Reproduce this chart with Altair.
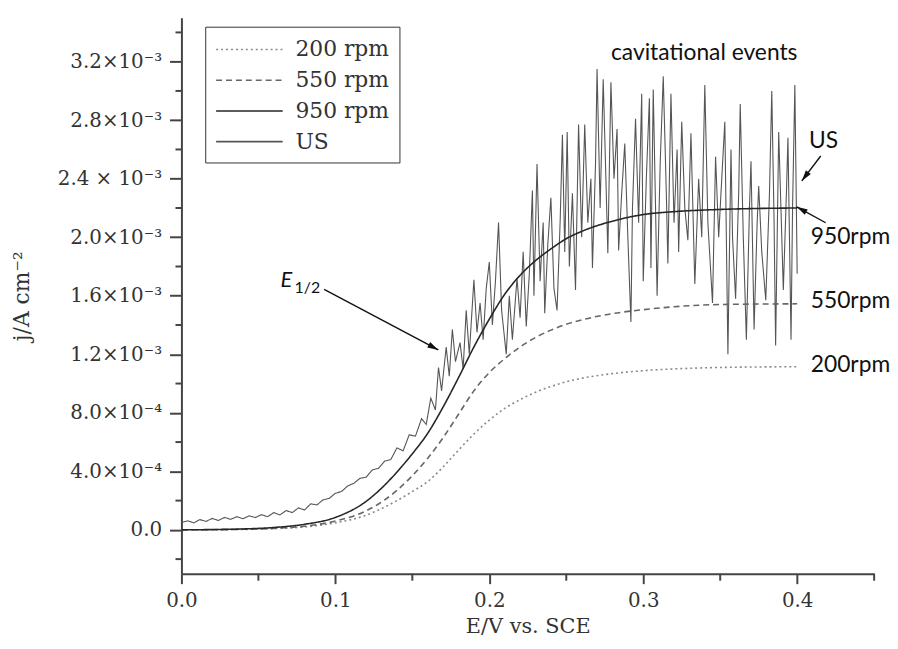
import altair as alt
import pandas as pd

# ---------------- data (j in units of 1e-3 A cm^-2, E in V vs. SCE) ----------------
E_CURVE = [0.00, 0.02, 0.04, 0.06, 0.08, 0.10, 0.12, 0.13, 0.14, 0.15, 0.16, 0.17, 0.18,
           0.19, 0.20, 0.21, 0.22, 0.23, 0.24, 0.25, 0.26, 0.28, 0.30, 0.32, 0.35, 0.40]
J_200 = [0.000, 0.001, 0.003, 0.008, 0.020, 0.048, 0.100, 0.145, 0.200, 0.262, 0.330, 0.430,
         0.545, 0.655, 0.750, 0.830, 0.890, 0.940, 0.980, 1.012, 1.036, 1.068, 1.088, 1.100,
         1.110, 1.115]
J_550 = [0.000, 0.001, 0.004, 0.010, 0.025, 0.060, 0.130, 0.190, 0.270, 0.370, 0.490, 0.630,
         0.790, 0.950, 1.075, 1.170, 1.250, 1.315, 1.365, 1.405, 1.435, 1.478, 1.505, 1.525,
         1.540, 1.545]
J_950 = [0.000, 0.002, 0.006, 0.016, 0.038, 0.085, 0.195, 0.285, 0.395, 0.520, 0.660, 0.840,
         1.040, 1.250, 1.440, 1.610, 1.740, 1.840, 1.920, 1.990, 2.040, 2.110, 2.155, 2.175,
         2.190, 2.200]

E_US = [0.000, 0.004, 0.008, 0.012, 0.016, 0.020, 0.024, 0.028, 0.032, 0.036, 0.040, 0.044,
        0.048, 0.052, 0.056, 0.060, 0.064, 0.068, 0.072, 0.076, 0.080, 0.084, 0.088, 0.092,
        0.096, 0.100, 0.104, 0.108, 0.112, 0.116, 0.120, 0.124, 0.128, 0.132, 0.136, 0.140,
        0.144, 0.148, 0.152, 0.156, 0.159, 0.162, 0.165, 0.167, 0.169, 0.172, 0.174, 0.176,
        0.178, 0.181, 0.183, 0.185, 0.187, 0.190, 0.192, 0.194, 0.196, 0.198, 0.200, 0.202,
        0.204, 0.206, 0.208, 0.211, 0.213, 0.215, 0.218, 0.220, 0.222, 0.224, 0.226, 0.228,
        0.229, 0.231, 0.233, 0.235, 0.236, 0.238, 0.240, 0.242, 0.244, 0.246, 0.2475, 0.249,
        0.2506, 0.252, 0.254, 0.256, 0.258, 0.260, 0.262, 0.264, 0.266, 0.267, 0.269, 0.270,
        0.272, 0.274, 0.276, 0.277, 0.279, 0.281, 0.283, 0.284, 0.286, 0.288, 0.290, 0.292,
        0.293, 0.295, 0.297, 0.299, 0.300, 0.302, 0.304, 0.305, 0.3065, 0.308, 0.309, 0.311,
        0.313, 0.315, 0.316, 0.318, 0.320, 0.322, 0.323, 0.325, 0.327, 0.329, 0.331, 0.3335,
        0.336, 0.338, 0.340, 0.342, 0.345, 0.347, 0.349, 0.351, 0.353, 0.355, 0.357, 0.358,
        0.360, 0.362, 0.363, 0.365, 0.367, 0.369, 0.370, 0.372, 0.374, 0.375, 0.377, 0.3796,
        0.382, 0.3835, 0.385, 0.386, 0.388, 0.390, 0.391, 0.393, 0.394, 0.396, 0.397, 0.3985,
        0.400]
J_US = [0.050, 0.062, 0.048, 0.070, 0.058, 0.078, 0.064, 0.085, 0.072, 0.090, 0.076, 0.096,
        0.084, 0.104, 0.090, 0.118, 0.102, 0.132, 0.118, 0.150, 0.136, 0.178, 0.170, 0.205,
        0.215, 0.250, 0.262, 0.300, 0.318, 0.352, 0.360, 0.410, 0.420, 0.470, 0.480, 0.560,
        0.540, 0.650, 0.640, 0.760, 0.720, 0.900, 0.820, 1.110, 0.950, 1.250, 1.050, 1.370,
        1.150, 1.280, 1.100, 1.500, 1.200, 1.710, 1.350, 1.550, 1.300, 1.650, 1.830, 1.400,
        1.700, 2.100, 1.500, 1.200, 1.600, 1.300, 1.720, 1.450, 1.900, 1.390, 1.750, 2.320,
        1.600, 2.500, 1.700, 2.100, 1.480, 1.950, 2.270, 1.650, 1.500, 2.100, 2.700, 1.900,
        2.720, 1.800, 2.300, 1.640, 2.770, 2.000, 2.770, 2.100, 2.400, 1.790, 2.500, 3.150,
        2.200, 3.080, 2.300, 1.890, 3.060, 2.400, 2.740, 1.910, 2.300, 2.640, 2.000, 1.420,
        2.200, 2.810, 2.100, 2.980, 1.700, 2.400, 2.950, 1.790, 3.010, 2.200, 1.600, 2.500,
        3.100, 2.300, 1.820, 2.980, 2.100, 2.600, 1.900, 2.790, 2.200, 1.980, 2.710, 1.680,
        2.400, 2.000, 3.040, 2.100, 1.550, 2.550, 2.000, 2.400, 2.790, 1.200, 2.600, 2.000,
        1.580, 2.300, 2.910, 2.000, 1.300, 2.200, 2.520, 1.370, 2.100, 2.350, 1.900, 1.570,
        2.300, 3.000, 2.100, 1.260, 2.720, 2.000, 1.640, 2.300, 2.680, 1.300, 2.200, 3.040,
        1.750]

SERIES = ["200 rpm", "550 rpm", "950 rpm", "US"]

X_MAJOR = [0.0, 0.1, 0.2, 0.3, 0.4]
X_LABELS = ["0.0", "0.1", "0.2", "0.3", "0.4"]
X_MINOR = [0.05, 0.15, 0.25, 0.35, 0.45]
Y_MAJOR = [0.0, 0.4, 0.8, 1.2, 1.6, 2.0, 2.4, 2.8, 3.2]
Y_LABELS = ["0.0", "4.0×10⁻⁴", "8.0×10⁻⁴", "1.2×10⁻³", "1.6×10⁻³", "2.0×10⁻³",
            "2.4 × 10⁻³", "2.8×10⁻³", "3.2×10⁻³"]
Y_MINOR = [-0.2, 0.2, 0.6, 1.0, 1.4, 1.8, 2.2, 2.6, 3.0, 3.4]

# annotations (label, E, j)
NOTE_CENTER = ["cavitational events", "US"]
NOTE_CENTER_E = [0.3396, 0.4172]
NOTE_CENTER_J = [3.214, 2.609]
NOTE_LEFT = ["950rpm", "550rpm", "200rpm"]
NOTE_LEFT_E = [0.4088, 0.4088, 0.4088]
NOTE_LEFT_J = [1.957, 1.515, 1.080]
ARROW_E1 = [0.0927, 0.4153, 0.4185]
ARROW_J1 = [1.644, 2.555, 2.099]
ARROW_E2 = [0.1669, 0.4030, 0.3997]
ARROW_J2 = [1.230, 2.385, 2.208]
ARROW_ANGLE = [118, 217, 299]

# ---------------- styling ----------------
COLORS = ["#8a8a8a", "#666666", "#262626", "#555555"]
DASHES = [[2, 3], [6, 4], [1, 0], [1, 0]]
SERIF = "DejaVu Serif"
SANS = "Lato"
AXIS_GRAY = "#444444"
PLOT_H = 561

curves = pd.DataFrame({
    "E": E_CURVE * 3,
    "j": J_200 + J_550 + J_950,
    "series": [SERIES[0]] * len(E_CURVE) + [SERIES[1]] * len(E_CURVE) + [SERIES[2]] * len(E_CURVE),
})
us = pd.DataFrame({"E": E_US, "j": J_US, "series": ["US"] * len(E_US)})


def label_expr(values, labels, mult):
    expr = "''"
    for v, lab in reversed(list(zip(values, labels))):
        expr = f"round(datum.value*{mult})=={round(v * mult)} ? '{lab}' : ({expr})"
    return expr


x_scale = alt.Scale(domain=[0, 0.45], nice=False, zero=False)
y_scale = alt.Scale(domain=[-0.3, 3.5], nice=False, zero=False)

x_axis = alt.Axis(
    title="E/V vs. SCE", values=X_MAJOR, labelExpr=label_expr(X_MAJOR, X_LABELS, 100),
    tickSize=10, labelPadding=7, titlePadding=5, titleFontSize=21, labelFlush=False,
    labelOverlap=False, grid=False,
)
y_axis = alt.Axis(
    title="j/A cm⁻²", values=Y_MAJOR, labelExpr=label_expr(Y_MAJOR, Y_LABELS, 10),
    tickSize=12, labelPadding=8, titlePadding=24, labelFlush=False, labelOverlap=False,
    grid=False,
)

legend = alt.Legend(
    title=None, orient="none", legendX=24, legendY=9, strokeColor="#333", fillColor="white",
    padding=10, symbolType="M-1,0H4.6", symbolSize=576, symbolStrokeWidth=1.6,
    labelOffset=55, rowPadding=7, labelFont=SERIF, labelFontSize=22, labelColor="#333",
)
color = alt.Color("series:N", scale=alt.Scale(domain=SERIES, range=COLORS), legend=legend)
dash = alt.StrokeDash("series:N", scale=alt.Scale(domain=SERIES, range=DASHES), legend=legend)

x = alt.X("E:Q", scale=x_scale, axis=x_axis)
y = alt.Y("j:Q", scale=y_scale, axis=y_axis)

us_line = alt.Chart(us).mark_line(strokeWidth=1.1).encode(x=x, y=y, color=color, strokeDash=dash)
curve_lines = alt.Chart(curves).mark_line(strokeWidth=1.6, interpolate="monotone").encode(
    x=x, y=y, color=color, strokeDash=dash, detail="series:N")

# minor ticks, positioned through the scales
y_minor = alt.Chart(pd.DataFrame({"j": Y_MINOR})).mark_rule(color=AXIS_GRAY, strokeWidth=2).encode(
    y="j:Q", x=alt.value(-6), x2=alt.value(0))
x_minor = alt.Chart(pd.DataFrame({"E": X_MINOR})).mark_rule(color=AXIS_GRAY, strokeWidth=2).encode(
    x="E:Q", y=alt.value(PLOT_H), y2=alt.value(PLOT_H + 7))

ncenter = pd.DataFrame({"t": NOTE_CENTER, "E": NOTE_CENTER_E, "j": NOTE_CENTER_J})
nleft = pd.DataFrame({"t": NOTE_LEFT, "E": NOTE_LEFT_E, "j": NOTE_LEFT_J})
arrows = pd.DataFrame({"E": ARROW_E1, "j": ARROW_J1, "E2": ARROW_E2, "j2": ARROW_J2,
                       "angle": ARROW_ANGLE})
e_lab = pd.DataFrame({"t": ["E"], "E": [0.0643], "j": [1.658]})
e_sub = pd.DataFrame({"t": ["1/2"], "E": [0.0735], "j": [1.620]})

t_center = alt.Chart(ncenter).mark_text(font=SANS, fontSize=23, align="center",
                                         baseline="alphabetic", color="#111").encode(
    x="E:Q", y="j:Q", text="t:N")
t_left = alt.Chart(nleft).mark_text(font=SANS, fontSize=23, align="left",
                                     baseline="alphabetic", color="#111").encode(
    x="E:Q", y="j:Q", text="t:N")
t_e = alt.Chart(e_lab).mark_text(font=SANS, fontSize=22, fontStyle="italic", align="left",
                                  baseline="alphabetic", color="#111").encode(
    x="E:Q", y="j:Q", text="t:N")
t_sub = alt.Chart(e_sub).mark_text(font=SANS, fontSize=16, align="left",
                                    baseline="alphabetic", color="#111").encode(
    x="E:Q", y="j:Q", text="t:N")
a_line = alt.Chart(arrows).mark_rule(color="#111", strokeWidth=1.4).encode(
    x="E:Q", y="j:Q", x2="E2:Q", y2="j2:Q")
a_head = alt.Chart(arrows).mark_point(shape="M0,0L0.45,1.6L-0.45,1.6Z", size=190, filled=True,
                                      color="#111", opacity=1).encode(
    x="E2:Q", y="j2:Q", angle=alt.Angle("angle:Q", scale=None))

chart = alt.layer(us_line, curve_lines, y_minor, x_minor, a_line, a_head,
                  t_center, t_left, t_e, t_sub).properties(
    width=699, height=PLOT_H,
    autosize=alt.AutoSizeParams(type="none"),
    padding={"left": 175, "top": 7, "right": 16, "bottom": 66},
).configure_view(stroke=None).configure_axis(
    labelFont=SERIF, labelFontSize=20, labelColor="#333",
    titleFont=SERIF, titleFontSize=22, titleFontWeight="normal", titleColor="#333",
    domainColor=AXIS_GRAY, domainWidth=2, tickColor=AXIS_GRAY, tickWidth=2,
)

chart.save("out.html", embed_options={"renderer": "svg", "actions": False})
